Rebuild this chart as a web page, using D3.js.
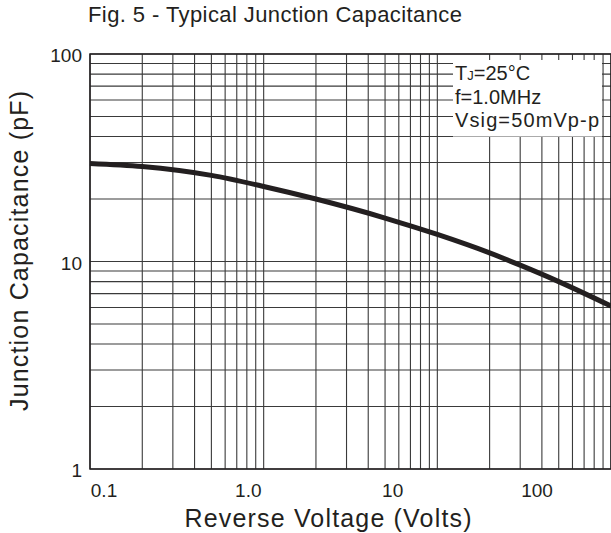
<!DOCTYPE html>
<html lang="en">
<head>
<meta charset="utf-8">
<title>Fig. 5 - Typical Junction Capacitance</title>
<script src="https://d3js.org/d3.v7.min.js"></script>
<style>
  body { margin: 0; background: #fff; }
  text { font-family: "Liberation Sans", Arial, Helvetica, sans-serif; fill: #231f20; }
</style>
</head>
<body>
<svg id="chart" width="611" height="533"></svg>
<script>

// ---- data ----
var voltage     = [0.1, 0.2, 0.5, 1, 2, 5, 10, 20, 30, 50, 100];
var capacitance = [29.7, 28.7, 26.0, 23.0, 20.0, 16.2, 13.5, 11.0, 9.6, 8.0, 6.1];

var xTickValues = [0.1, 1, 10, 100];
var xTickLabels = ["0.1", "1.0", "10", "100"];
var yTickValues = [1, 10, 100];
var yTickLabels = ["1", "10", "100"];

var conditions = ["=25°C", "f=1.0MHz", "Vsig=50mVp-p"];

// ---- layout ----
// (plotTop etc. - plain "top" clashes with window.top)
var plotLeft = 90, plotRight = 611, plotTop = 54, plotBottom = 469;

var svg = d3.select("#chart");

var x = d3.scaleLog().domain([0.1, 100]).range([plotLeft, plotRight]);
var y = d3.scaleLog().domain([1, 100]).range([plotBottom, plotTop]);
// the printed x labels sit on their own, evenly spread, not on the grid decades
var xLabel = d3.scaleLog().domain([0.1, 100]).range([104, 537]);

// grid values: 1..9 in each decade
function decadeLines(lo, hi) {
    var out = [];
    for (var d = lo; d < hi; d *= 10)
        for (var k = 1; k <= 10; k++) out.push(+(d * k).toPrecision(3));
    return Array.from(new Set(out));
}
var xGrid = decadeLines(0.1, 100);
var yGrid = decadeLines(1, 100);

var grid = svg.append("g").attr("stroke", "#3a3a3a").attr("stroke-width", 1.1);

grid.selectAll("line.v").data(xGrid).enter()
    .append("line").attr("class", "v")
    .attr("x1", function (d) { return x(d); })
    .attr("x2", function (d) { return x(d); })
    .attr("y1", plotTop).attr("y2", plotBottom);

grid.selectAll("line.h").data(yGrid).enter()
    .append("line").attr("class", "h")
    .attr("x1", plotLeft).attr("x2", plotRight)
    .attr("y1", function (d) { return y(d); })
    .attr("y2", function (d) { return y(d); });

// frame
svg.append("rect")
    .attr("x", plotLeft).attr("y", plotTop)
    .attr("width", plotRight - plotLeft).attr("height", plotBottom - plotTop)
    .attr("fill", "none").attr("stroke", "#231f20").attr("stroke-width", 1.5);

// white box behind the test conditions
svg.append("rect")
    .attr("x", 453).attr("y", 60)
    .attr("width", 149).attr("height", y(40) - 60)
    .attr("fill", "#fff");

// curve
var line = d3.line()
    .x(function (d, i) { return x(voltage[i]); })
    .y(function (d) { return y(d); })
    .curve(d3.curveMonotoneX);

svg.append("path")
    .datum(capacitance)
    .attr("d", line)
    .attr("fill", "none")
    .attr("stroke", "#231f20")
    .attr("stroke-width", 5);

// tick labels
svg.selectAll("text.xt").data(xTickValues).enter()
    .append("text").attr("class", "xt")
    .attr("x", function (d) { return xLabel(d); })
    .attr("y", 497)
    .attr("text-anchor", "middle")
    .style("font-size", "19px")
    .text(function (d, i) { return xTickLabels[i]; });

svg.selectAll("text.yt").data(yTickValues).enter()
    .append("text").attr("class", "yt")
    .attr("x", 82)
    .attr("y", function (d) { return y(d) + 8; })
    .attr("text-anchor", "end")
    .style("font-size", "19px")
    .text(function (d, i) { return yTickLabels[i]; });

// title and axis titles
svg.append("text")
    .attr("x", 275).attr("y", 22)
    .attr("text-anchor", "middle")
    .attr("textLength", 374).attr("lengthAdjust", "spacing")
    .style("font-size", "22px")
    .text("Fig. 5 - Typical Junction Capacitance");

svg.append("text")
    .attr("x", 328).attr("y", 527)
    .attr("text-anchor", "middle")
    .attr("textLength", 287).attr("lengthAdjust", "spacing")
    .style("font-size", "25px")
    .text("Reverse Voltage (Volts)");

svg.append("text")
    .attr("transform", "translate(28,251) rotate(-90)")
    .attr("text-anchor", "middle")
    .attr("textLength", 320).attr("lengthAdjust", "spacing")
    .style("font-size", "25px")
    .text("Junction Capacitance (pF)");

// test conditions
var cond = svg.append("g").style("font-size", "20px");
var t0 = cond.append("text").attr("x", 455).attr("y", 80);
t0.append("tspan").text("T");
t0.append("tspan").style("font-size", "13px").text("J");
t0.append("tspan").text(conditions[0]);
cond.append("text").attr("x", 455).attr("y", 104).text(conditions[1]);
cond.append("text").attr("x", 455).attr("y", 127)
    .attr("textLength", 144).attr("lengthAdjust", "spacing")
    .text(conditions[2]);

</script>
</body>
</html>
